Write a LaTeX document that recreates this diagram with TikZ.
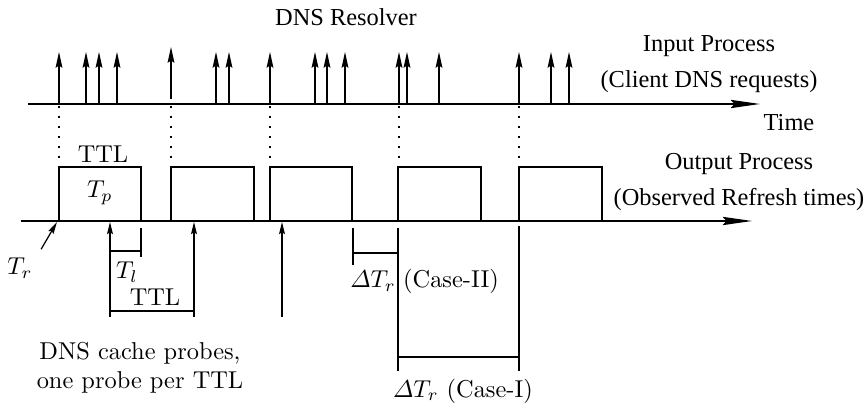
\documentclass[tikz,border=0pt]{standalone}
\usepackage{amsmath}
\usepackage{fontspec}
\newfontfamily\timesfont{Liberation Serif}
\usetikzlibrary{arrows.meta}

\begin{document}
\begin{tikzpicture}[x=0.41pt, y=-0.41pt, every node/.style={font=\normalsize},
  timeaxis/.style={line width=0.6pt, -{Stealth[length=12pt, width=3.4pt, inset=1.5pt]}},
  request/.style={line width=0.5pt, -{Stealth[length=6.5pt, width=2.8pt, inset=1pt]}},
  probe/.style={line width=0.5pt, -{Stealth[length=5pt, width=2.4pt, inset=0.8pt]}},
  marker/.style={line width=0.5pt},
  refresh/.style={line width=0.5pt, dash pattern=on 0.7pt off 3.4pt},
  tlabel/.style={font=\timesfont, align=center}]

  \useasboundingbox (0,0) rectangle (867,404);

  % Input process: time axis with client requests
  \node[tlabel] (resolver) at (346,17) {DNS Resolver};
  \draw[timeaxis] (28,104) -- (760,104);
  \foreach \x in {59,86,99,117,216,229,270,315,327,345,399,407,439,519,551,569}
    \draw[request] (\x,104) -- (\x,52);
  \draw[request] (171,99) -- (171,47);
  \node[tlabel] (input) at (709,64) {Input Process\\[3pt](Client DNS requests)};
  \node[tlabel] (time) at (789,123) {Time};

  % Refresh times carried down to the output process
  \foreach \x in {59,171,270,399,519}
    \draw[refresh] (\x,106) -- (\x,165);

  % Output process: cached record lifetimes
  \draw[timeaxis] (21,221) -- (752,221);
  \foreach \a/\b in {59/141,171/254,270/352,398/481,519/602}
    \draw[marker] (\a,221) -- (\a,167) -- (\b,167) -- (\b,221);
  \node[tlabel] (output) at (739,182) {Output Process\\[3pt](Observed Refresh times)};
  \node (ttltop) at (103,154) {TTL};
  \node (tp) at (100,193) {$T_p$};

  % Refresh instant
  \coordinate (refresh) at (57,222);
  \node (tr) at (20,268) {$T_r$};
  \draw[probe] (tr.north east) -- (refresh);

  % Cache probes, one per TTL
  \foreach \x in {110,194,282}
    \draw[probe] (\x,317) -- (\x,222);
  \draw[marker] (141,228) -- (141,257);
  \draw[marker] (110,251) -- (141,251);
  \node (tl) at (127,272) {$T_l$};
  \draw[marker] (110,311) -- (194,311);
  \node (ttlprobe) at (155,297) {TTL};
  \node[align=center] (probes) at (140,368) {DNS cache probes,\\one probe per TTL};

  % Delta T_r, case II
  \draw[marker] (353,228) -- (353,265);
  \draw[marker] (353,253) -- (398,253);
  \draw[marker] (398,228) -- (398,371);
  \node (dtr2) at (373,281) {$\varDelta T_r$};
  \node (case2) at (451,281) {(Case-II)};

  % Delta T_r, case I
  \draw[marker] (398,357) -- (519,357);
  \draw[marker] (519,226) -- (519,371);
  \node (case1) at (463,391) {$\varDelta T_r$\ (Case-I)};

\end{tikzpicture}
\end{document}
